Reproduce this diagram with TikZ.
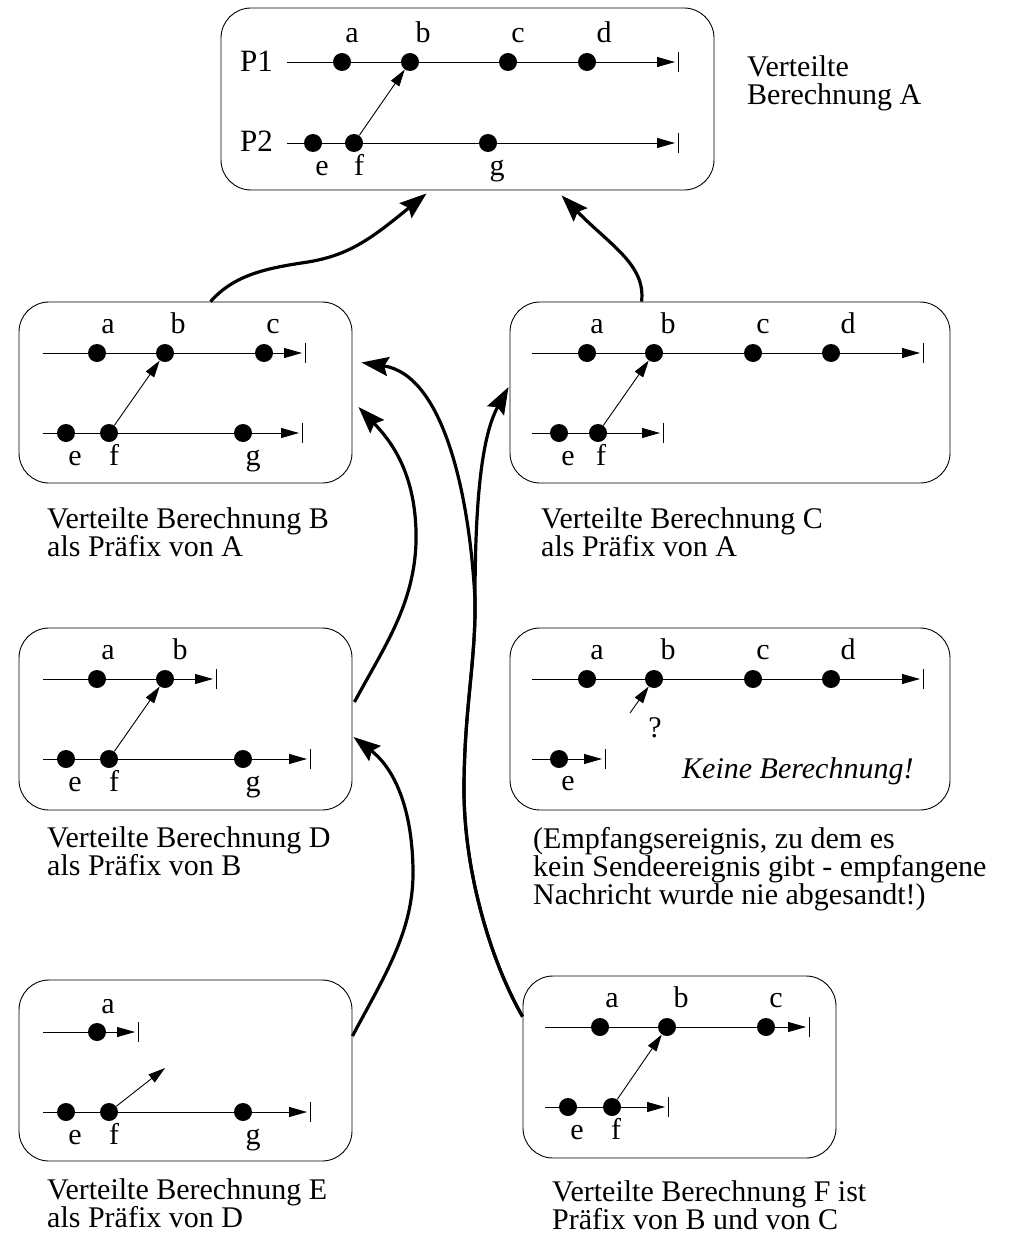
\documentclass[tikz,border=0pt]{standalone}
\usepackage{fontspec}
\setmainfont{Liberation Serif}
\usetikzlibrary{arrows.meta,calc}

% one event: dot plus its letter
% #1 name, #2/#3 dot position, #4 letter, #5/#6 base point of the letter
\newcommand\event[6]{%
  \node[ev] (#1) at (#2,#3) {};
  \node[lbl] (#1-t) at (#5,#6) {#4};}
% a process time line ending in an arrow and a stop bar
% #1 y, #2 x start, #3 x of the arrow tip
\newcommand\procline[3]{%
  \draw[pline] (#2,#1) -- (#3,#1);
  \draw[line width=0.9pt] (#3+3,#1-10) -- (#3+3,#1+10);}

\begin{document}
\begin{tikzpicture}[x=1pt,y=-1pt,
  framebox/.style={draw, line width=0.9pt, rounded corners=30pt, inner sep=0pt},
  ev/.style={circle, fill=black, inner sep=0pt, minimum size=18pt},
  lbl/.style={font=\fontsize{30}{30}\selectfont, anchor=base, inner sep=0pt},
  captxt/.style={font=\fontsize{30}{30}\selectfont, anchor=base west,
    inner sep=0pt, text height=20pt, text depth=6pt},
  pline/.style={line width=0.9pt, -{Triangle[length=18pt,width=10pt]}},
  msg/.style={line width=0.9pt, -{Triangle[length=17pt,width=10pt]}},
  conn/.style={line width=3.2pt, -{Stealth[length=27pt,width=19pt,inset=4pt]}},
]
\useasboundingbox (0,0) rectangle (1018,1236);

% ---------------- frames ----------------
\node[framebox, minimum width=493pt, minimum height=182pt] (A) at (467.5,99) {};
\node[framebox, minimum width=333pt, minimum height=181pt] (B) at (185.5,392.5) {};
\node[framebox, minimum width=440pt, minimum height=181pt] (C) at (730,392.5) {};
\node[framebox, minimum width=333pt, minimum height=182pt] (D) at (185.5,719) {};
\node[framebox, minimum width=440pt, minimum height=182pt] (X) at (730,719) {};
\node[framebox, minimum width=333pt, minimum height=181pt] (E) at (185.5,1070.5) {};
\node[framebox, minimum width=313pt, minimum height=182pt] (F) at (679.5,1067) {};

% ---------------- computation A ----------------
\node[captxt, font=\fontsize{31}{31}\selectfont] (P1) at (240,72) {P1};
\node[captxt, font=\fontsize{31}{31}\selectfont] (P2) at (240,151) {P2};
\procline{62}{287}{675}
\procline{143}{287}{675}
\event{Aa}{342}{62}{a}{352}{43}
\event{Ab}{410}{62}{b}{423}{43}
\event{Ac}{508}{62}{c}{518}{43}
\event{Ad}{587}{62}{d}{604}{43}
\event{Ae}{313}{143}{e}{322}{175}
\event{Af}{354}{143}{f}{359}{175}
\event{Ag}{488}{143}{g}{497}{175}
\draw[msg] (Af) -- (Ab);
\node[captxt] (capA1) at (747,77) {Verteilte};
\node[captxt] (capA2) at (747,105) {Berechnung A};

% ---------------- computation B ----------------
\procline{353}{43}{302}
\procline{433}{43}{299}
\event{Ba}{97}{353}{a}{108}{333}
\event{Bb}{165}{353}{b}{178}{333}
\event{Bc}{264}{353}{c}{273}{333}
\event{Be}{66}{433}{e}{75}{465}
\event{Bf}{109}{433}{f}{114}{465}
\event{Bg}{243}{433}{g}{253}{465}
\draw[msg] (Bf) -- (Bb);
\node[captxt] (capB1) at (47,528) {Verteilte Berechnung B};
\node[captxt] (capB2) at (47,556) {als Präfix von A};

% ---------------- computation C ----------------
\procline{353}{532}{920}
\procline{433}{532}{660}
\event{Ca}{587}{353}{a}{597}{333}
\event{Cb}{654}{353}{b}{668}{333}
\event{Cc}{753}{353}{c}{763}{333}
\event{Cd}{831}{353}{d}{848}{333}
\event{Ce}{559}{433}{e}{568}{465}
\event{Cf}{598}{433}{f}{601}{465}
\draw[msg] (Cf) -- (Cb);
\node[captxt] (capC1) at (541,528) {Verteilte Berechnung C};
\node[captxt] (capC2) at (541,556) {als Präfix von A};

% ---------------- computation D ----------------
\procline{679}{43}{213}
\procline{759}{43}{307}
\event{Da}{97}{679}{a}{108}{659}
\event{Db}{165}{679}{b}{180}{659}
\event{De}{66}{759}{e}{75}{791}
\event{Df}{109}{759}{f}{114}{791}
\event{Dg}{243}{759}{g}{253}{791}
\draw[msg] (Df) -- (Db);
\node[captxt] (capD1) at (47,847) {Verteilte Berechnung D};
\node[captxt] (capD2) at (47,875) {als Präfix von B};

% ---------------- no computation ----------------
\procline{679}{532}{920}
\procline{759}{532}{602}
\event{Xa}{587}{679}{a}{597}{659}
\event{Xb}{654}{679}{b}{668}{659}
\event{Xc}{753}{679}{c}{763}{659}
\event{Xd}{831}{679}{d}{848}{659}
\event{Xe}{559}{759}{e}{568}{790}
\coordinate (Xq) at (630,713);
\draw[msg] (Xq) -- (Xb);
\node[lbl] (Xqm) at (655,737) {?};
\node[captxt] (Xnone) at (682,778) {\itshape Keine Berechnung!};
\node[captxt] (capX1) at (533,848) {(Empfangsereignis, zu dem es};
\node[captxt] (capX2) at (533,876) {kein Sendeereignis gibt - empfangene};
\node[captxt] (capX3) at (533,904) {Nachricht wurde nie abgesandt!)};

% ---------------- computation E ----------------
\procline{1032}{43}{135}
\procline{1112}{43}{307}
\event{Ea}{97}{1032}{a}{108}{1013}
\event{Ee}{66}{1112}{e}{75}{1144}
\event{Ef}{109}{1112}{f}{114}{1144}
\event{Eg}{243}{1112}{g}{253}{1144}
\coordinate (Eout) at (165,1068);
\draw[msg] (Ef) -- (Eout);
\node[captxt] (capE1) at (47,1199) {Verteilte Berechnung E};
\node[captxt] (capE2) at (47,1227) {als Präfix von D};

% ---------------- computation F ----------------
\procline{1027}{545}{806}
\procline{1107}{545}{665}
\event{Fa}{600}{1027}{a}{612}{1007}
\event{Fb}{667}{1027}{b}{681}{1007}
\event{Fc}{766}{1027}{c}{776}{1007}
\event{Fe}{568}{1107}{e}{577}{1139}
\event{Ff}{612}{1107}{f}{616}{1139}
\draw[msg] (Ff) -- (Fb);
\node[captxt] (capF1) at (552,1201) {Verteilte Berechnung F ist};
\node[captxt] (capF2) at (552,1229) {Präfix von B und von C};

% ---------------- prefix relation ----------------
\draw[conn] ($(B.north west)+(192,0)$)
  .. controls (235,274) and (268,268) .. (308,262)
  .. controls (350,255) and (372,238) .. ($(A.south west)+(206,3)$);
\draw[conn] ($(C.north west)+(132,0)$)
  .. controls (646,265) and (610,245) .. ($(A.south west)+(341,5)$);
\draw[conn] ($(F.north west)+(0,41)$)
  .. controls (490,960) and (464,870) .. (464,790)
  .. controls (464,710) and (476,660) .. (475,600)
  .. controls (470,500) and (445,375) .. ($(B.east)+(9,-30)$);
\draw[conn] ($(F.north west)+(0,41)$)
  .. controls (490,960) and (464,870) .. (464,790)
  .. controls (464,710) and (476,660) .. (475,600)
  .. controls (475,480) and (485,430) .. ($(C.west)+(-1,-5.5)$);
\draw[conn] ($(D.east)+(2,-17)$)
  .. controls (385,645) and (418,600) .. (416,530)
  .. controls (414,470) and (390,440) .. ($(B.east)+(6,14.5)$);
\draw[conn] ($(E.east)+(0,-34.5)$)
  .. controls (385,975) and (414,930) .. (413,870)
  .. controls (412,800) and (390,765) .. ($(D.east)+(1,18)$);
\end{tikzpicture}
\end{document}
